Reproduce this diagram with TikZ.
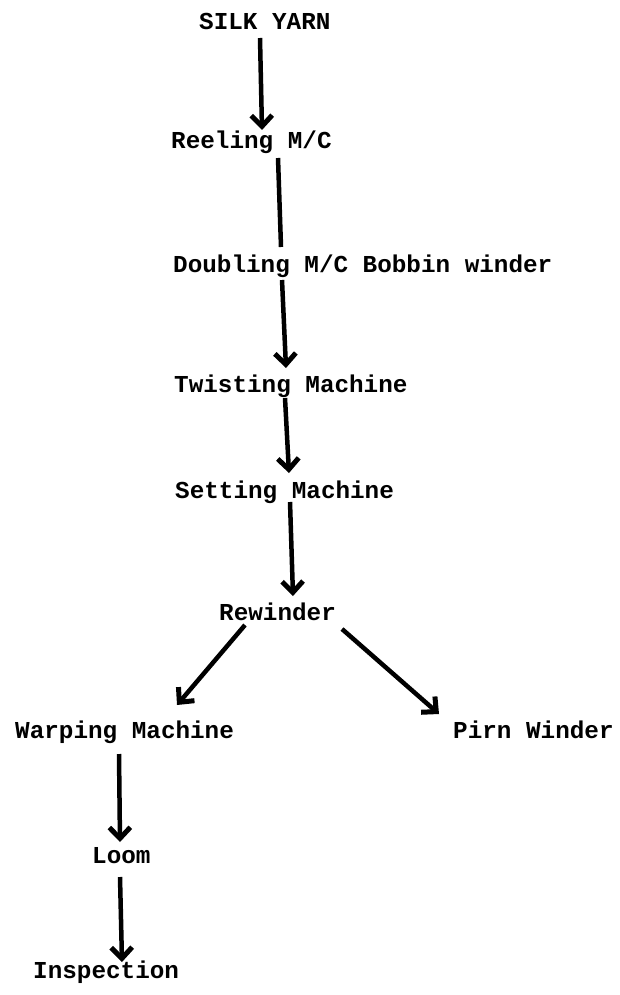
\documentclass[tikz,border=0pt]{standalone}
\usepackage{fontspec}
\newfontfamily\twfont{Liberation Mono}
\usetikzlibrary{arrows.meta,calc}
\tikzset{
  lbl/.style={anchor=base west, inner sep=0pt, font=\twfont\bfseries\fontsize{24.3}{28}\selectfont},
  arr/.style={line width=4.5pt, -{Straight Barb[length=11pt,width=21pt,line width=5pt]}},
  ln/.style={line width=4.5pt}
}
\begin{document}
\begin{tikzpicture}[x=1pt,y=-1pt]
\useasboundingbox (0,0) rectangle (619,995);
\node[lbl] (silk)  at (199,30)  {SILK YARN};
\node[lbl] (reel)  at (171,149) {Reeling M/C};
\node[lbl] (doub)  at (173,272) {Doubling M/C Bobbin winder};
\node[lbl] (twist) at (174,392) {Twisting Machine};
\node[lbl] (sett)  at (175,498) {Setting Machine};
\node[lbl] (rew)   at (219,620) {Rewinder};
\node[lbl] (warp)  at (15,738)  {Warping Machine};
\node[lbl] (pirn)  at (453,738) {Pirn Winder};
\node[lbl] (loom)  at (92,863)  {Loom};
\node[lbl] (insp)  at (33,978)  {Inspection};
\draw[arr] ($(silk.base west)+(61,8)$) -- ($(reel.base west)+(91,-19)$);
\draw[ln]  ($(reel.base west)+(107,9)$) -- ($(doub.base west)+(108,-25)$);
\draw[arr] ($(doub.base west)+(109,8)$) -- ($(twist.base west)+(112,-24)$);
\draw[arr] ($(twist.base west)+(111,6)$) -- ($(sett.base west)+(114,-25)$);
\draw[arr] ($(sett.base west)+(115,4)$) -- ($(rew.base west)+(74,-24)$);
\draw[arr] ($(rew.base west)+(26,5)$) -- ($(warp.base west)+(162,-33)$);
\draw[arr] ($(rew.base west)+(123,9)$) -- ($(pirn.base west)+(-14,-24)$);
\draw[arr] ($(warp.base west)+(104,16)$) -- ($(loom.base west)+(28,-21)$);
\draw[arr] ($(loom.base west)+(28,14)$) -- ($(insp.base west)+(89,-16)$);
\end{tikzpicture}
\end{document}
